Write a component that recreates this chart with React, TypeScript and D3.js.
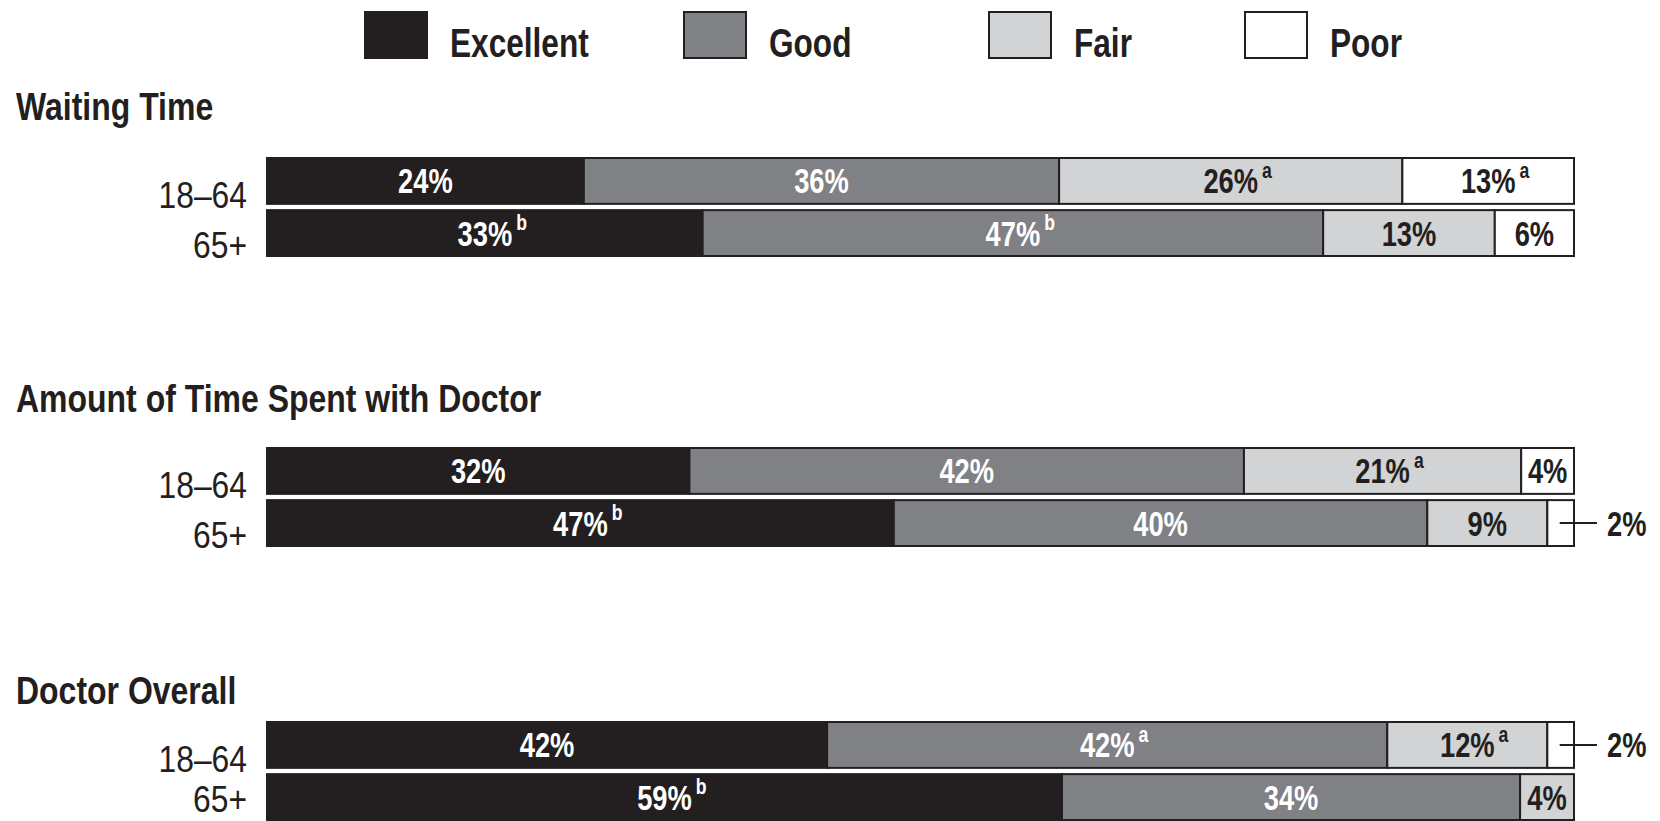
import React, { useEffect, useRef } from "react";
import * as d3 from "d3";

const categories = ["Excellent", "Good", "Fair", "Poor"];
const fills = ["#231f20", "#808184", "#d1d3d4", "#ffffff"];
const labelColors = ["#ffffff", "#ffffff", "#231f20", "#231f20"];

const sections = ["Waiting Time", "Amount of Time Spent with Doctor", "Doctor Overall"];
const ageGroups = ["18–64", "65+"];

const waitingTime = [
  [24, 36, 26, 13],
  [33, 47, 13, 6],
];
const timeWithDoctor = [
  [32, 42, 21, 4],
  [47, 40, 9, 2],
];
const doctorOverall = [
  [42, 42, 12, 2],
  [59, 34, 4, 0],
];

const waitingNotes = [
  ["", "", "a", "a"],
  ["b", "b", "", ""],
];
const timeNotes = [
  ["", "", "a", ""],
  ["b", "", "", ""],
];
const overallNotes = [
  ["", "a", "a", ""],
  ["b", "", "", ""],
];

const sectionValues = [waitingTime, timeWithDoctor, doctorOverall];
const sectionNotes = [waitingNotes, timeNotes, overallNotes];

// layout
const W = 1660;
const H = 821;
const barLeft = 267;
const barRight = 1574;
const sectionTop = [158, 448, 722];
const titleY = [120, 412, 704];
const legendX = [365, 684, 989, 1245];
const FONT = "'Liberation Sans', Arial, sans-serif";
const DARK = "#231f20";
const SQUEEZE = 0.83; // condensed look

// text squeezed horizontally around its anchor point
const addText = (parent, x, y, str, opts) => {
  const t = parent
    .append("text")
    .attr("transform", `translate(${x},${y}) scale(${opts.sx || SQUEEZE},1)`)
    .attr("text-anchor", opts.anchor || "start")
    .attr("font-family", FONT)
    .attr("font-weight", opts.bold ? "bold" : "normal")
    .attr("font-size", opts.size)
    .attr("fill", opts.color || DARK)
    .text(str);
  return t;
};

const App = () => {
  const ref = useRef(null);

  useEffect(() => {
    const svg = d3.select(ref.current);
    svg.selectAll("*").remove();

    // legend
    const legend = svg.append("g").attr("class", "legend");
    categories.forEach((c, i) => {
      legend
        .append("rect")
        .attr("x", legendX[i])
        .attr("y", 12)
        .attr("width", 62)
        .attr("height", 46)
        .attr("fill", fills[i])
        .attr("stroke", DARK)
        .attr("stroke-width", 2);
      addText(legend, legendX[i] + 85, 57, c, { size: 40, bold: true, sx: 0.79 });
    });

    const rowBand = d3.scaleBand().domain(ageGroups).range([0, 98]).paddingInner(0.12);

    sections.forEach((title, s) => {
      const g = svg.append("g").attr("transform", `translate(0,${sectionTop[s]})`);

      addText(svg, 16, titleY[s], title, { size: 39, bold: true, sx: 0.82 });

      sectionValues[s].forEach((vals, r) => {
        const y0 = rowBand(ageGroups[r]);
        const bh = rowBand.bandwidth();
        const x = d3.scaleLinear().domain([0, d3.sum(vals)]).range([barLeft, barRight]);
        const stack = d3.cumsum([0, ...vals]);

        const ly = Math.min(y0 + bh + (r === 0 ? 4 : 2), H - 9 - sectionTop[s]);
        addText(g, 247, ly, ageGroups[r], {
          size: 37,
          anchor: "end",
          sx: 0.86,
        });

        vals.forEach((v, k) => {
          if (v <= 0) return;
          const xa = x(stack[k]);
          const xb = x(stack[k + 1]);
          g.append("rect")
            .attr("x", xa)
            .attr("y", y0)
            .attr("width", xb - xa)
            .attr("height", bh)
            .attr("fill", fills[k])
            .attr("stroke", DARK)
            .attr("stroke-width", 2);
        });

        vals.forEach((v, k) => {
          if (v <= 0) return;
          const xa = x(stack[k]);
          const xb = x(stack[k + 1]);
          const cx = (xa + xb) / 2;
          const cy = y0 + bh / 2;
          const outside = v <= 2;
          let tx = cx;
          let anchor = "middle";
          let color = labelColors[k];
          if (outside) {
            g.append("line")
              .attr("x1", cx - 1)
              .attr("x2", barRight + 23)
              .attr("y1", cy)
              .attr("y2", cy)
              .attr("stroke", DARK)
              .attr("stroke-width", 2);
            tx = barRight + 33;
            anchor = "start";
            color = DARK;
          }
          const t = addText(g, tx, cy + 12.5, `${v}%`, {
            size: 35,
            bold: true,
            anchor,
            color,
            sx: 0.78,
          });
          const note = sectionNotes[s][r][k];
          if (note) {
            const w = t.node().getComputedTextLength() * 0.78;
            const right = anchor === "middle" ? tx + w / 2 : tx + w;
            addText(g, right + 4, cy - 3, note, { size: 22, bold: true, color, sx: 0.8 });
          }
        });
      });
    });
  }, []);

  return (
    <svg
      ref={ref}
      width={W}
      height={H}
      style={{ position: "absolute", left: 0, top: 0, background: "#fff" }}
    />
  );
};

export default App;
